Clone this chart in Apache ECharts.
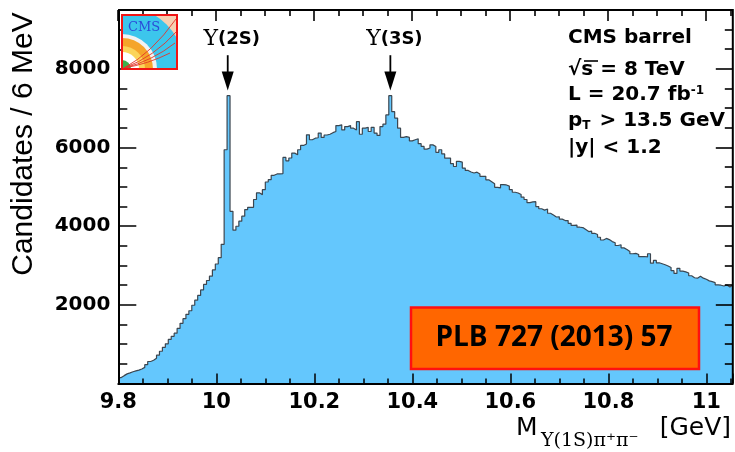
<!DOCTYPE html>
<html>
<head>
<meta charset="utf-8">
<script src="https://cdn.jsdelivr.net/npm/echarts@6/dist/echarts.min.js"></script>
<style>
  html, body { margin: 0; padding: 0; background: #ffffff; }
  #chart { width: 735px; height: 452px; }
</style>
</head>
<body>
<div id="chart"></div>
<script>
// Υ(1S)π+π- invariant mass spectrum, 6 MeV bins starting at 9.8 GeV
const massLow = 9.8;
const binWidth = 0.006;
const candidates = [
  150, 200, 245, 270, 300, 320, 340, 370, 410, 480,
  560, 590, 640, 720, 820, 920, 1010, 1120, 1200, 1280,
  1400, 1530, 1650, 1760, 1850, 1990, 2120, 2240, 2380, 2520,
  2620, 2730, 2890, 3040, 3200, 3540, 5945, 7320, 4380, 3900,
  4000, 4130, 4255, 4425, 4480, 4480, 4680, 4850, 4800, 4930,
  5125, 5185, 5295, 5330, 5330, 5340, 5750, 5665, 5735, 5860,
  5820, 5945, 6055, 6090, 6325, 6200, 6240, 6250, 6370, 6260,
  6320, 6340, 6380, 6410, 6560, 6580, 6450, 6535, 6560, 6495,
  6450, 6660, 6340, 6495, 6515, 6410, 6515, 6370, 6310, 6535,
  6595, 6830, 7320, 6915, 6750, 6495, 6260, 6280, 6260, 6170,
  6200, 6225, 6100, 6030, 5960, 5990, 6070, 6030, 5880, 5945,
  5840, 5730, 5735, 5590, 5520, 5650, 5630, 5480, 5420, 5380,
  5355, 5375, 5330, 5270, 5270, 5180, 5130, 5080, 4990, 4975,
  5060, 5050, 5020, 4930, 4865, 4845, 4805, 4740, 4680, 4600,
  4620, 4625, 4500, 4445, 4410, 4440, 4330, 4285, 4235, 4240,
  4180, 4145, 4145, 4075, 4020, 4030, 3975, 3965, 3915, 3865,
  3875, 3820, 3790, 3720, 3650, 3690, 3660, 3610, 3580, 3510,
  3530, 3450, 3410, 3360, 3300, 3310, 3280, 3225, 3230, 3220,
  3300, 3060, 3130, 3070, 3045, 3020, 2990, 2950, 2870, 2800,
  2930, 2860, 2840, 2810, 2740, 2690, 2680, 2730, 2680, 2650,
  2610, 2590, 2565, 2510, 2500, 2480, 2505, 2455, 2500
];

// axis tick labels
const xTickLabels = ['9.8', '10', '10.2', '10.4', '10.6', '10.8', '11'];
const yTickLabels = ['2000', '4000', '6000', '8000'];
const xMinorStep = 0.05;
const yMinorStep = 500;

// resonance markers: names and masses (GeV)
const peakNames = ['(2S)', '(3S)'];
const peakMasses = [10.0233, 10.3552];

// info lines (rich text)
const infoLines = [
  'CMS barrel',
  '√s = 8 TeV',
  '{a|L = 20.7 fb}{sup|-1}',
  '{a|p}{sub|T}{a| > 13.5 GeV}',
  '|y| < 1.2'
];
const referenceText = 'PLB 727 (2013) 57';

const massHigh = +(massLow + candidates.length * binWidth).toFixed(3);
const yMax = 9500;

// histogram as a stepped outline: one point per left bin edge plus the final edge
const histData = candidates.map((c, i) => [+(massLow + i * binWidth).toFixed(3), c]);
histData.push([massHigh, candidates[candidates.length - 1]]);

const chart = echarts.init(document.getElementById('chart'), null, { renderer: 'canvas' });
const tickFont = 'DejaVu Sans';

const option = {
  animation: false,
  backgroundColor: '#ffffff',
  grid: { left: 118.3, right: 2.2, top: 10, bottom: 68.5 },
  xAxis: {
    type: 'value', min: massLow, max: massHigh, interval: 0.2, z: 10,
    splitLine: { show: false },
    axisLine: { show: true, onZero: false, lineStyle: { color: '#000', width: 2 } },
    axisTick: { show: true, inside: true, length: 10, lineStyle: { color: '#000', width: 1.5 } },
    minorTick: { show: true, splitNumber: 4, length: 5, lineStyle: { color: '#000', width: 1.5 } },
    axisLabel: {
      show: true, margin: 9, color: '#000', fontFamily: tickFont, fontWeight: 'bold', fontSize: 21,
      showMaxLabel: false,
      formatter: function (v) {
        const s = String(+v.toFixed(1));
        return xTickLabels.indexOf(s) >= 0 ? s : '';
      }
    }
  },
  yAxis: {
    type: 'value', min: 0, max: yMax, interval: 2000, z: 10,
    splitLine: { show: false },
    axisLine: { show: true, onZero: false, lineStyle: { color: '#000', width: 2 } },
    axisTick: { show: true, inside: true, length: 18, lineStyle: { color: '#000', width: 1.5 } },
    minorTick: { show: true, splitNumber: 4, length: 9, lineStyle: { color: '#000', width: 1.5 } },
    axisLabel: {
      show: true, margin: 8, color: '#000', fontFamily: tickFont, fontWeight: 'bold', fontSize: 20,
      showMaxLabel: false, showMinLabel: false,
      formatter: function (v) {
        const s = String(Math.round(v));
        return yTickLabels.indexOf(s) >= 0 ? s : '';
      }
    }
  },
  series: [{
    type: 'line',
    name: 'candidates',
    step: 'end',
    showSymbol: false,
    symbol: 'none',
    data: histData,
    lineStyle: { color: '#3b4650', width: 1.2 },
    areaStyle: { color: '#64c7fd', opacity: 1 },
    z: 2
  }]
};
chart.setOption(option);

// decoration layer placed through the chart's own coordinate system
const toPx = (x, y) => chart.convertToPixel({ xAxisIndex: 0, yAxisIndex: 0 }, [x, y]);
const g = [];
const corner0 = toPx(massLow, 0);
const corner1 = toPx(massHigh, yMax);
const xL = corner0[0], yB = corner0[1], xR = corner1[0], yT = corner1[1];

function tickBar(x, y, w, h) {
  return { type: 'rect', z: 200, shape: { x: x, y: y, width: w, height: h }, style: { fill: '#000000', opacity: 1 } };
}

// ticks on the top and right edges of the frame, pointing inwards
const majorX = xTickLabels.map(Number);
for (let k = 0; massLow + k * xMinorStep <= massHigh + 1e-9; k++) {
  const v = +(massLow + k * xMinorStep).toFixed(3);
  const major = majorX.some(m => Math.abs(m - v) < 1e-6);
  const px = Math.round(toPx(v, 0)[0]) - 0.8;
  g.push(tickBar(px, yT, 1.6, major ? 11 : 6));
}
const majorY = yTickLabels.map(Number);
for (let v = yMinorStep; v < yMax; v += yMinorStep) {
  const major = majorY.indexOf(v) >= 0;
  const py = Math.round(toPx(massLow, v)[1]) - 0.8;
  const lr = major ? 17 : 8;
  g.push(tickBar(xR - lr, py, lr, 1.6));
}
// top and right frame lines
g.push({ type: 'polyline', z: 200, shape: { points: [[xL, yT], [xR, yT], [xR, yB]] },
         style: { fill: null, stroke: '#000', lineWidth: 2 } });

// arrows with labels above the two narrow peaks
peakMasses.forEach(function (m, i) {
  const top = toPx(m, 8350);
  const tip = toPx(m, 7450);
  const headBase = tip[1] - 19;
  g.push({ type: 'line', z: 100, shape: { x1: top[0], y1: top[1], x2: top[0], y2: headBase + 1 },
           style: { stroke: '#000', lineWidth: 1.8 } });
  g.push({ type: 'polygon', z: 100,
           shape: { points: [[tip[0] - 6, headBase], [tip[0] + 6, headBase], [tip[0], tip[1]]] },
           style: { fill: '#000' } });
  g.push({ type: 'text', z: 100, x: top[0] + 4, y: top[1] - 16,
           style: { text: '{u|Υ}{b|' + peakNames[i] + '}', align: 'center', verticalAlign: 'middle',
                    rich: { u: { fontFamily: 'DejaVu Serif', fontSize: 22, fill: '#000' },
                            b: { fontFamily: 'DejaVu Sans', fontWeight: 'bold', fontSize: 18, fill: '#000' } } } });
});

// info block, top right
const infoY = [38, 70, 95, 121, 148];
infoLines.forEach(function (t, i) {
  g.push({ type: 'text', z: 100, x: 568, y: infoY[i],
           style: { text: t, align: 'left', verticalAlign: 'middle', fill: '#000',
                    font: 'bold 20px "DejaVu Sans"',
                    rich: {
                      a: { fontFamily: 'DejaVu Sans', fontWeight: 'bold', fontSize: 20, fill: '#000' },
                      sup: { fontFamily: 'DejaVu Sans', fontWeight: 'bold', fontSize: 12, fill: '#000', verticalAlign: 'top', padding: [0, 0, 8, 0] },
                      sub: { fontFamily: 'DejaVu Sans', fontWeight: 'bold', fontSize: 12, fill: '#000', verticalAlign: 'bottom', padding: [10, 2, 0, 0] }
                    } } });
});
// overline of the square root
g.push({ type: 'line', z: 100, shape: { x1: 584, y1: 61, x2: 598, y2: 61 }, style: { stroke: '#000', lineWidth: 1.6 } });

// publication reference box
g.push({ type: 'rect', z: 100, shape: { x: 411, y: 307.5, width: 288, height: 61.5 },
         style: { fill: '#ff6600', stroke: '#ff1010', lineWidth: 2.5 } });
g.push({ type: 'text', z: 101, x: 554, y: 338.5,
         style: { text: referenceText, align: 'center', verticalAlign: 'middle', fill: '#000',
                  font: 'bold 28px "Open Sans"' } });

// axis titles
g.push({ type: 'text', z: 100, x: 24, y: 144, rotation: Math.PI / 2,
         style: { text: 'Candidates / 6 MeV', align: 'center', verticalAlign: 'middle', fill: '#000',
                  font: '30px "Liberation Sans"' } });
g.push({ type: 'text', z: 100, x: 516, y: 428,
         style: { text: 'M', align: 'left', verticalAlign: 'middle', fill: '#000', font: '25px "DejaVu Sans"' } });
g.push({ type: 'text', z: 100, x: 541, y: 441,
         style: { text: 'Υ(1S)π⁺π⁻', align: 'left', verticalAlign: 'middle', fill: '#000', font: '19px "DejaVu Serif"' } });
g.push({ type: 'text', z: 100, x: 731, y: 428,
         style: { text: '[GeV]', align: 'right', verticalAlign: 'middle', fill: '#000', font: '25px "DejaVu Sans"' } });

// experiment logo in the top left corner of the frame (artwork as an inline vector image)
const q = (r, fill) => '<path d="M0,54 L0,' + (54 - r) + ' A' + r + ',' + r + ' 0 0 1 ' + r + ',54 Z" fill="' + fill + '"/>';
const tracks = [[54, 4, 30, 38], [55, 16, 32, 42], [53, 28, 30, 46], [48, 38, 26, 49]]
  .map(c => '<path d="M2,53 Q' + c[2] + ',' + c[3] + ' ' + c[0] + ',' + c[1] + '" fill="none" stroke="#e2342a" stroke-width="0.9"/>').join('');
const logoSvg = '<svg xmlns="http://www.w3.org/2000/svg" width="55" height="54" viewBox="0 0 55 54">' +
  '<rect width="55" height="54" fill="#f6cfb2"/>' +
  q(63, '#3cc6ec') + q(35, '#f2f2f2') + q(31, '#f5a52a') + q(23, '#fbd45a') + q(17, '#ffffff') + q(9, '#3cb04a') +
  tracks + '</svg>';
g.push({ type: 'group', z: 300, x: 122, y: 15, children: [
  { type: 'image', z: 300, style: { image: 'data:image/svg+xml;charset=utf-8,' + encodeURIComponent(logoSvg), x: 0, y: 0, width: 55, height: 54 } },
  { type: 'text', z: 301, x: 6, y: 13, style: { text: 'CMS', align: 'left', verticalAlign: 'middle', fill: '#2b4bd8', font: '13px "DejaVu Serif"' } },
  { type: 'rect', z: 301, shape: { x: 0, y: 0, width: 55, height: 54 }, style: { fill: null, stroke: '#f01414', lineWidth: 2 } }
] });

chart.setOption({ graphic: g });
</script>
</body>
</html>
